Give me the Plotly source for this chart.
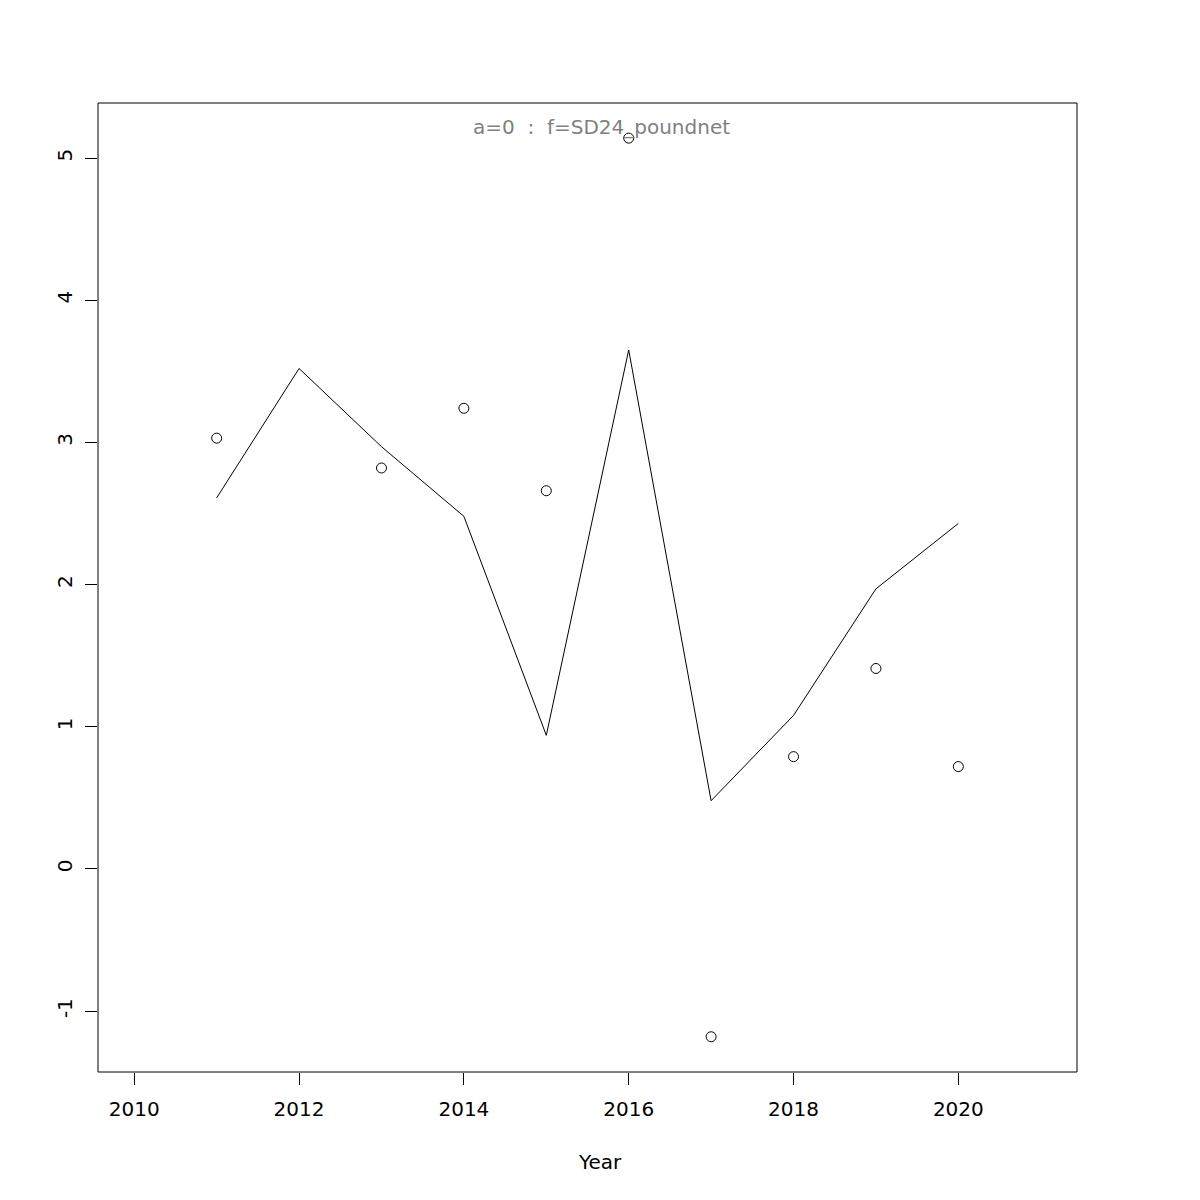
import plotly.graph_objects as go

years = [2011, 2012, 2013, 2014, 2015, 2016, 2017, 2018, 2019, 2020]
observed = [3.03, None, 2.82, 3.24, 2.66, 5.14, -1.18, 0.79, 1.41, 0.72]
fitted = [2.61, 3.52, 2.97, 2.48, 0.94, 3.65, 0.48, 1.08, 1.97, 2.43]
x_ticks = [2010, 2012, 2014, 2016, 2018, 2020]
y_ticks = [-1, 0, 1, 2, 3, 4, 5]
title_text = "a=0  :  f=SD24_poundnet"
x_label = "Year"

FONT = "DejaVu Sans"

fig = go.Figure()
fig.add_trace(go.Scatter(
    x=years, y=fitted, mode="lines",
    line=dict(color="black", width=1), showlegend=False, hoverinfo="skip"))
fig.add_trace(go.Scatter(
    x=years, y=observed, mode="markers",
    marker=dict(symbol="circle-open", size=10, color="black", line=dict(width=1)),
    showlegend=False))

fig.update_layout(
    width=1200, height=1200,
    margin=dict(l=90, r=131, t=95, b=136),
    plot_bgcolor="white", paper_bgcolor="white",
    font=dict(family=FONT, size=20, color="black"),
    xaxis=dict(
        range=[2009.56, 2021.44], tickvals=x_ticks, ticktext=[str(v) for v in x_ticks],
        ticks="outside", ticklen=12, tickwidth=1, tickcolor="black",
        ticklabelstandoff=7,
        showgrid=False, zeroline=False, showline=False,
    ),
    yaxis=dict(
        range=[-1.428, 5.387], tickvals=y_ticks, ticktext=[str(v) for v in y_ticks],
        ticks="outside", ticklen=12, tickwidth=1, tickcolor="black", tickangle=-90,
        ticklabelstandoff=5,
        showgrid=False, zeroline=False, showline=False,
    ),
    shapes=[
        dict(type="rect", xref="paper", yref="paper", x0=0, y0=0, x1=1, y1=1,
             line=dict(color="black", width=1), fillcolor="rgba(0,0,0,0)"),
    ],
    annotations=[
        dict(text=title_text, xref="paper", yref="paper", x=0.5148, y=1 - 24 / 969,
             xanchor="center", yanchor="middle", showarrow=False,
             font=dict(family=FONT, size=20, color="#808080")),
        dict(text=x_label, xref="paper", yref="paper", x=0.5128, y=-90 / 969,
             xanchor="center", yanchor="middle", showarrow=False,
             font=dict(family=FONT, size=20, color="black")),
    ],
)

fig.write_html("out.html")
